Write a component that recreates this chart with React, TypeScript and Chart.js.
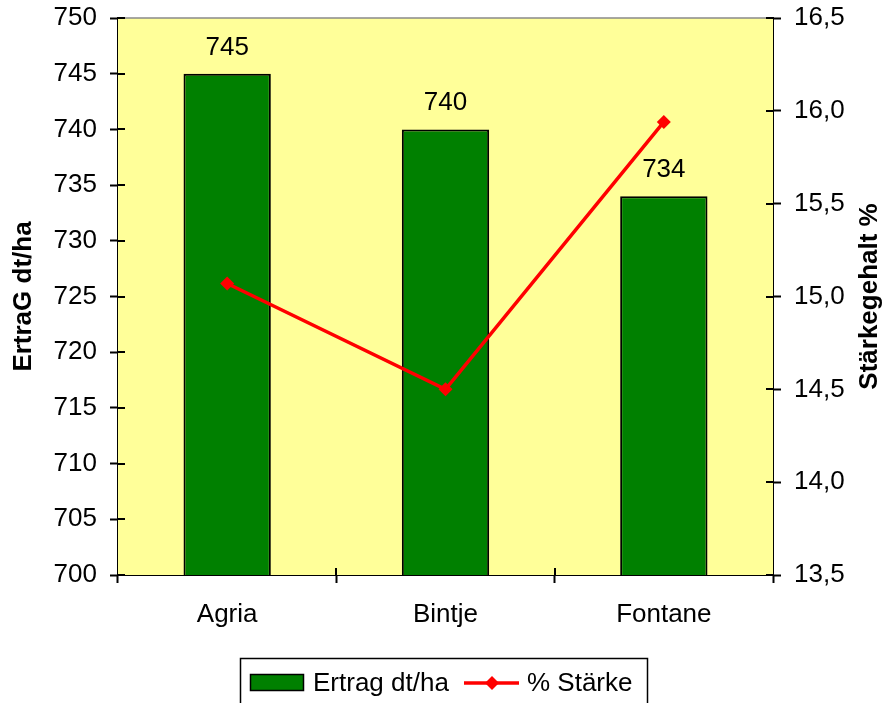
import React, { useEffect, useRef } from "react";
import { Chart, registerables } from "chart.js";

Chart.register(...registerables);

// Sorten, Ertrag und Stärkegehalt
const categories = ["Agria", "Bintje", "Fontane"];
const ertrag = [745, 740, 734];
const staerke = [15.07, 14.5, 15.94];
const ertragLabel = "Ertrag dt/ha";
const staerkeLabel = "% Stärke";
const leftTitle = "ErtraG dt/ha";
const rightTitle = "Stärkegehalt %";

const FONT = "'Liberation Sans', Arial, sans-serif";
const PLOT_BG = "#FFFF99";
const BAR_GREEN = "#008000";
const LINE_RED = "#FF0000";

const W = 885;
const H = 703;
const PLOT = { left: 118, right: 773, top: 18, bottom: 575 };

// Plot background, top frame line, crossing tick marks, titles, labels, legend
const decorations = {
  id: "decorations",
  beforeDatasetsDraw(chart: any) {
    const { ctx, chartArea } = chart;
    ctx.save();
    ctx.fillStyle = PLOT_BG;
    ctx.fillRect(chartArea.left, chartArea.top, chartArea.right - chartArea.left, chartArea.bottom - chartArea.top);
    ctx.strokeStyle = "#8a8a8a";
    ctx.lineWidth = 1.5;
    ctx.beginPath();
    ctx.moveTo(chartArea.left, chartArea.top);
    ctx.lineTo(chartArea.right, chartArea.top);
    ctx.stroke();
    ctx.restore();
  },
  afterDatasetsDraw(chart: any) {
    const { ctx, chartArea, scales } = chart;
    ctx.save();
    // inner halves of the tick marks
    ctx.strokeStyle = "#000";
    ctx.lineWidth = 2;
    ctx.beginPath();
    scales.y.ticks.forEach((_t: any, i: number) => {
      const py = Math.round(scales.y.getPixelForTick(i));
      ctx.moveTo(chartArea.left, py);
      ctx.lineTo(chartArea.left + 7, py);
    });
    scales.y1.ticks.forEach((_t: any, i: number) => {
      const py = Math.round(scales.y1.getPixelForTick(i));
      ctx.moveTo(chartArea.right, py);
      ctx.lineTo(chartArea.right - 7, py);
    });
    const n = categories.length;
    for (let i = 1; i < n; i++) {
      const px = Math.round(chartArea.left + ((chartArea.right - chartArea.left) * i) / n);
      ctx.moveTo(px, chartArea.bottom);
      ctx.lineTo(px, chartArea.bottom - 7);
    }
    ctx.stroke();

    // value labels above the bars
    const meta = chart.getDatasetMeta(0);
    ctx.fillStyle = "#000";
    ctx.font = `26px ${FONT}`;
    ctx.textAlign = "center";
    ctx.textBaseline = "alphabetic";
    meta.data.forEach((bar: any, i: number) => {
      ctx.fillText(String(chart.data.datasets[0].data[i]), bar.x, bar.y - 19);
    });
    ctx.restore();
  },
  afterDraw(chart: any) {
    const { ctx, chartArea } = chart;
    const cy = (chartArea.top + chartArea.bottom) / 2;
    ctx.save();
    ctx.fillStyle = "#000";
    ctx.font = `bold 26px ${FONT}`;
    ctx.textAlign = "center";
    ctx.textBaseline = "middle";
    // axis titles, both read bottom to top
    ctx.save();
    ctx.translate(24, cy);
    ctx.rotate(-Math.PI / 2);
    ctx.fillText(leftTitle, 0, 0);
    ctx.restore();
    ctx.save();
    ctx.translate(870, cy);
    ctx.rotate(-Math.PI / 2);
    ctx.fillText(rightTitle, 0, 0);
    ctx.restore();

    // legend
    const ds = chart.data.datasets;
    ctx.strokeStyle = "#000";
    ctx.lineWidth = 1.5;
    ctx.strokeRect(240.5, 658.5, 407, 50);
    ctx.fillStyle = ds[0].backgroundColor;
    ctx.fillRect(250, 674, 54, 17);
    ctx.strokeRect(250.5, 674.5, 53, 16);
    ctx.fillStyle = "#000";
    ctx.font = `26px ${FONT}`;
    ctx.textAlign = "left";
    ctx.textBaseline = "middle";
    ctx.fillText(ds[0].label, 313, 684);
    ctx.strokeStyle = ds[1].borderColor;
    ctx.lineWidth = 3.5;
    ctx.beginPath();
    ctx.moveTo(464, 683);
    ctx.lineTo(519, 683);
    ctx.stroke();
    ctx.fillStyle = ds[1].borderColor;
    ctx.beginPath();
    ctx.moveTo(492, 676);
    ctx.lineTo(499, 683);
    ctx.lineTo(492, 690);
    ctx.lineTo(485, 683);
    ctx.closePath();
    ctx.fill();
    ctx.fillStyle = "#000";
    ctx.fillText(ds[1].label, 527, 684);
    ctx.restore();
  },
};

export default function App() {
  const canvasRef = useRef<HTMLCanvasElement | null>(null);

  useEffect(() => {
    const canvas = canvasRef.current;
    if (!canvas) return;
    const tickFont = { family: FONT, size: 26 };
    const noEdgePadding = (scale: any) => {
      scale.paddingTop = 0;
      scale.paddingBottom = 0;
    };
    const chart = new Chart(canvas, {
      type: "bar",
      data: {
        labels: categories,
        datasets: [
          {
            type: "bar",
            label: ertragLabel,
            data: ertrag,
            backgroundColor: BAR_GREEN,
            borderColor: "#000",
            borderWidth: 2,
            barPercentage: 0.4,
            categoryPercentage: 1,
            yAxisID: "y",
            order: 2,
          },
          {
            type: "line",
            label: staerkeLabel,
            data: staerke,
            borderColor: LINE_RED,
            backgroundColor: LINE_RED,
            borderWidth: 3.5,
            pointStyle: "rectRot",
            pointRadius: 7,
            pointBackgroundColor: LINE_RED,
            pointBorderColor: LINE_RED,
            pointBorderWidth: 0,
            yAxisID: "y1",
            order: 1,
          } as any,
        ],
      },
      options: {
        responsive: false,
        animation: false,
        layout: { padding: { top: PLOT.top, left: 0, right: 0, bottom: 0 } },
        plugins: {
          legend: { display: false },
          tooltip: { enabled: false },
        },
        scales: {
          x: {
            type: "category",
            offset: true,
            grid: {
              display: true,
              offset: true,
              drawOnChartArea: false,
              drawTicks: true,
              tickLength: 8,
              tickWidth: 2,
              tickColor: "#000",
            },
            border: { display: true, color: "#000", width: 2 },
            ticks: { font: tickFont, color: "#000", padding: 16, maxRotation: 0 },
            afterFit(scale: any) {
              scale.height = H - PLOT.bottom;
              scale.paddingLeft = 0;
              scale.paddingRight = 0;
            },
          },
          y: {
            type: "linear",
            position: "left",
            min: 700,
            max: 750,
            grid: {
              display: true,
              drawOnChartArea: false,
              drawTicks: true,
              tickLength: 8,
              tickWidth: 2,
              tickColor: "#000",
            },
            border: { display: true, color: "#000", width: 2 },
            ticks: { stepSize: 5, font: tickFont, color: "#000", padding: 13 },
            afterFit(scale: any) {
              scale.width = PLOT.left;
              noEdgePadding(scale);
            },
          },
          y1: {
            type: "linear",
            position: "right",
            min: 13.5,
            max: 16.5,
            grid: {
              display: true,
              drawOnChartArea: false,
              drawTicks: true,
              tickLength: 8,
              tickWidth: 2,
              tickColor: "#000",
            },
            border: { display: true, color: "#000", width: 2 },
            ticks: {
              stepSize: 0.5,
              font: tickFont,
              color: "#000",
              padding: 13,
              callback: (v: any) => Number(v).toFixed(1).replace(".", ","),
            },
            afterFit(scale: any) {
              scale.width = W - PLOT.right;
              noEdgePadding(scale);
            },
          },
        },
      },
      plugins: [decorations],
    });
    return () => chart.destroy();
  }, []);

  return (
    <div style={{ position: "absolute", left: 0, top: 0, width: W, height: H, background: "#fff" }}>
      <canvas ref={canvasRef} width={W} height={H} style={{ display: "block" }} />
    </div>
  );
}
